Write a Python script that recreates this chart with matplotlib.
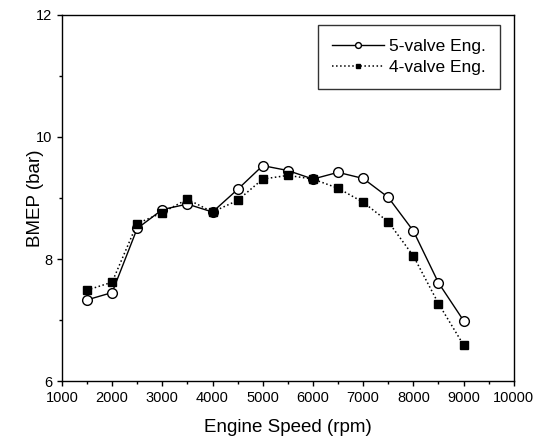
import matplotlib.pyplot as plt
from matplotlib.ticker import MultipleLocator

plt.rcParams['font.family'] = ['Liberation Sans', 'DejaVu Sans']

speed = [1500, 2000, 2500, 3000, 3500, 4000, 4500, 5000, 5500,
         6000, 6500, 7000, 7500, 8000, 8500, 9000]
bmep_5v = [7.33, 7.45, 8.50, 8.81, 8.90, 8.77, 9.14, 9.53, 9.45,
           9.31, 9.42, 9.32, 9.01, 8.46, 7.61, 6.99]
bmep_4v = [7.49, 7.62, 8.58, 8.76, 8.98, 8.77, 8.96, 9.31, 9.37,
           9.31, 9.16, 8.93, 8.61, 8.05, 7.27, 6.59]

fig = plt.figure(figsize=(5.38, 4.38), dpi=100)
ax = fig.add_axes([0.115, 0.130, 0.840, 0.836])

ax.plot(speed, bmep_5v, '-', color='black', lw=1.0, marker='o', ms=7,
        mfc='white', mec='black', mew=1.0, label='5-valve Eng.')
ax.plot(speed, bmep_4v, ':', color='black', lw=1.1, marker='s', ms=6,
        mfc='black', mec='black', label='4-valve Eng.')

ax.set_xlim(1000, 10000)
ax.set_ylim(6, 12)
ax.xaxis.set_major_locator(MultipleLocator(1000))
ax.xaxis.set_minor_locator(MultipleLocator(500))
ax.yaxis.set_major_locator(MultipleLocator(2))
ax.yaxis.set_minor_locator(MultipleLocator(1))
ax.tick_params(which='major', direction='out', length=3.5, width=1, labelsize=10.5)
ax.tick_params(which='minor', direction='out', length=2.5, width=1)
for s in ax.spines.values():
    s.set_linewidth(1)

ax.set_xlabel('Engine Speed (rpm)', fontsize=13.5)
ax.set_ylabel('BMEP (bar)', fontsize=13.5)
ax.xaxis.set_label_coords(0.5, -0.104)
ax.yaxis.set_label_coords(-0.040, 0.5)

leg = ax.legend(loc='upper right', bbox_to_anchor=(0.969, 0.973), borderaxespad=0,
                fontsize=12.5, frameon=True, fancybox=False, edgecolor='black',
                handlelength=3.0, handletextpad=0.3, borderpad=0.8,
                labelspacing=0.35, markerscale=0.6)
leg.get_frame().set_linewidth(1)

fig.savefig('out.png', dpi=100)
